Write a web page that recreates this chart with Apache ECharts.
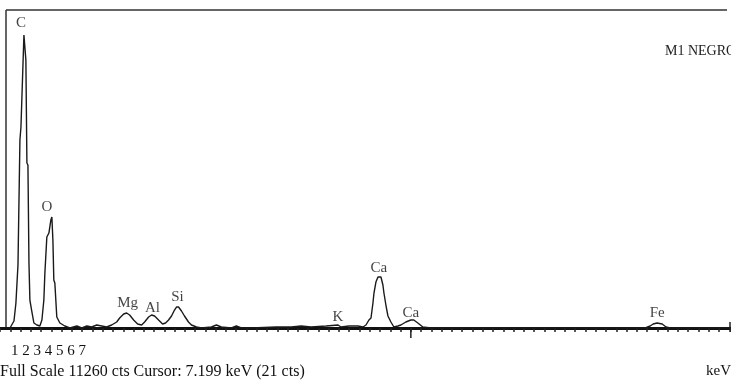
<!DOCTYPE html>
<html><head><meta charset="utf-8">
<script src="https://cdn.jsdelivr.net/npm/echarts@6/dist/echarts.min.js"></script>
<style>html,body{margin:0;padding:0;background:#fff;overflow:hidden}#c{width:731px;height:383px}</style>
</head><body><div id="c"></div>
<script>
// Spectrum (keV, counts)
const energy = [0.097,0.136,0.155,0.175,0.194,0.204,0.223,0.233,0.243,0.252,0.262,0.272,0.282,0.291,0.311,0.330,0.359,0.388,
  0.408,0.427,0.437,0.456,0.476,0.495,0.505,0.515,0.524,0.534,0.553,0.583,0.631,0.680,0.699,0.748,0.796,0.845,0.893,0.942,0.990,1.039,1.087,
  1.136,1.165,1.204,1.233,1.262,1.301,1.340,1.379,
  1.408,1.447,1.476,1.505,1.544,1.583,1.612,
  1.641,1.670,1.699,1.718,1.738,1.767,1.796,1.835,1.864,1.913,1.961,2.058,2.107,2.155,2.252,2.301,2.350,2.447,
  2.689,2.835,2.932,3.029,3.175,3.291,3.320,3.398,3.485,3.534,3.563,3.592,3.612,3.631,3.641,3.660,3.680,3.709,3.728,3.738,3.757,3.777,3.806,3.835,
  3.874,3.903,3.951,4.000,4.029,4.068,4.117,4.194,4.874,5.845,6.282,6.330,6.359,6.398,6.447,6.485,6.524,7.117];
const counts = [0,248,885,2230,6655,7115,7115,10372,10372,9487,5841,5770,2301,991,566,177,106,71,
  283,991,1947,3221,3363,3823,3929,3115,1699,1593,389,177,71,0,35,71,0,71,35,106,71,35,106,
  212,354,496,531,460,283,142,106,
  212,389,460,425,283,142,177,
  283,425,637,743,743,602,425,212,106,35,0,35,106,35,0,71,0,0,
  35,35,71,35,71,106,35,71,71,35,106,283,354,885,1239,1628,1805,1805,1522,1239,814,425,212,35,
  71,106,212,283,283,177,35,0,0,0,0,71,142,177,142,35,0,0];

// Peak labels
const peakNames  = ['C','O','Mg','Al','Si','K','Ca','Ca','Fe'];
const peakEnergy = [0.204,0.456,1.243,1.485,1.728,3.291,3.689,4.000,6.398];
const peakCounts = [10797,4283,885,708,1097,389,2124,531,531];

const scaleLabels = ['1','2','3','4','5','6','7'];
const fullScale = 11260;
const cursorEnergy = 4.0;
const sampleName = 'M1 NEGRO';
const footerText = 'Full Scale 11260 cts Cursor: 7.199 keV (21 cts)';
const unitText = 'keV';

const FONT = 'Liberation Serif';
const chart = echarts.init(document.getElementById('c'), null, {renderer:'canvas'});
const option = {
  animation:false,
  backgroundColor:'#fff',
  grid:{left:-2, right:0, top:10, bottom:55, containLabel:false},
  xAxis:{type:'value', min:0, max:7.117, interval:0.1,
    axisLine:{show:true, lineStyle:{color:'#111', width:3}},
    axisTick:{show:true, length:4, lineStyle:{color:'#222', width:1.5}},
    axisLabel:{show:false}, splitLine:{show:false}},
  yAxis:{type:'value', min:0, max:fullScale, show:false, splitLine:{show:false}},
  series:[
    {type:'line', data:energy.map((e,i)=>[e,counts[i]]), symbol:'none',
     lineStyle:{color:'#1a1a1a', width:1.4}, z:3},
    {type:'scatter', data:peakEnergy.map((e,i)=>({value:[e,peakCounts[i]], name:peakNames[i]})),
     symbolSize:0, z:5,
     label:{show:true, position:'inside', formatter:p=>p.name, fontFamily:FONT, fontSize:15, color:'#111'}}
  ]
};
chart.setOption(option);
const cp = chart.convertToPixel({gridIndex:0}, [cursorEnergy, 0]);
chart.setOption({graphic:[
  {type:'line', shape:{x1:6,y1:10,x2:727,y2:10}, style:{stroke:'#333', lineWidth:1.5}},
  {type:'line', shape:{x1:6,y1:10,x2:6,y2:328}, style:{stroke:'#333', lineWidth:1.5}},
  {type:'line', shape:{x1:cp[0],y1:cp[1],x2:cp[0],y2:cp[1]+10}, style:{stroke:'#222', lineWidth:1.5}},
  {type:'line', shape:{x1:730,y1:322,x2:730,y2:330}, style:{stroke:'#222', lineWidth:1.5}},
  {type:'text', left:665, top:44, style:{text:sampleName, font:'14px "'+FONT+'"', fill:'#222'}},
  {type:'text', left:11, top:344, style:{text:scaleLabels.join(' '), font:'15px "'+FONT+'"', fill:'#111'}},
  {type:'text', left:0, top:364, style:{text:footerText, font:'16px "'+FONT+'"', fill:'#111'}},
  {type:'text', right:0, top:364, style:{text:unitText, font:'15px "'+FONT+'"', fill:'#111'}}
]});
</script>
</body></html>
